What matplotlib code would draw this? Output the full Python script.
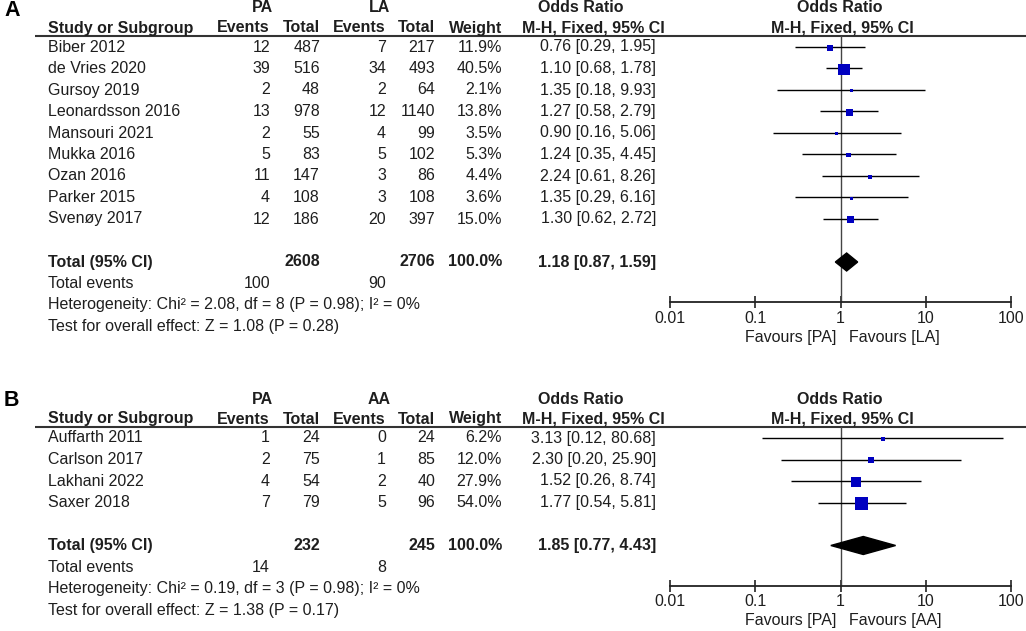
import numpy as np
import matplotlib.pyplot as plt

plt.rcParams['font.family'] = ['Liberation Sans', 'DejaVu Sans']

# ---- panel A: PA vs LA ----
studies_a = ['Biber 2012', 'de Vries 2020', 'Gursoy 2019', 'Leonardsson 2016',
             'Mansouri 2021', 'Mukka 2016', 'Ozan 2016', 'Parker 2015', 'Svenøy 2017']
pa_events_a = [12, 39, 2, 13, 2, 5, 11, 4, 12]
pa_total_a = [487, 516, 48, 978, 55, 83, 147, 108, 186]
ctl_events_a = [7, 34, 2, 12, 4, 5, 3, 3, 20]
ctl_total_a = [217, 493, 64, 1140, 99, 102, 86, 108, 397]
weight_a = [11.9, 40.5, 2.1, 13.8, 3.5, 5.3, 4.4, 3.6, 15.0]
or_a = [0.76, 1.10, 1.35, 1.27, 0.90, 1.24, 2.24, 1.35, 1.30]
lo_a = [0.29, 0.68, 0.18, 0.58, 0.16, 0.35, 0.61, 0.29, 0.62]
hi_a = [1.95, 1.78, 9.93, 2.79, 5.06, 4.45, 8.26, 6.16, 2.72]
total_n_a = [2608, 2706]
total_events_a = [100, 90]
total_or_a = [1.18, 0.87, 1.59]
het_a = 'Heterogeneity: Chi² = 2.08, df = 8 (P = 0.98); I² = 0%'
z_a = 'Test for overall effect: Z = 1.08 (P = 0.28)'

# ---- panel B: PA vs AA ----
studies_b = ['Auffarth 2011', 'Carlson 2017', 'Lakhani 2022', 'Saxer 2018']
pa_events_b = [1, 2, 4, 7]
pa_total_b = [24, 75, 54, 79]
ctl_events_b = [0, 1, 2, 5]
ctl_total_b = [24, 85, 40, 96]
weight_b = [6.2, 12.0, 27.9, 54.0]
or_b = [3.13, 2.30, 1.52, 1.77]
lo_b = [0.12, 0.20, 0.26, 0.54]
hi_b = [80.68, 25.90, 8.74, 5.81]
total_n_b = [232, 245]
total_events_b = [14, 8]
total_or_b = [1.85, 0.77, 4.43]
het_b = 'Heterogeneity: Chi² = 0.19, df = 3 (P = 0.98); I² = 0%'
z_b = 'Test for overall effect: Z = 1.38 (P = 0.17)'

W, H = 1026, 631
FS = 11.5
TXT = '#1e1e1e'
BLUE = '#0000c0'
ROW = 21.5

fig = plt.figure(figsize=(W / 100, H / 100), dpi=100)
bg = fig.add_axes([0, 0, 1, 1])
bg.set_xlim(0, W)
bg.set_ylim(H, 0)
bg.axis('off')

def fmt_or(o, l, h):
    return '%.2f [%.2f, %.2f]' % (o, l, h)

def panel(letter, y0, ctl, studies, pe, pt, ce, ct, wt, ors, los, his,
          tot_n, tot_ev, tot_or, het, ztxt):
    t = dict(fontsize=FS, color=TXT, va='center')
    b = dict(t, fontweight='bold')
    bg.text(4, y0 - 37, letter, fontsize=15.5, fontweight='bold', color='black',
            va='center', ha='left')
    # headers
    bg.text(262, y0 - 39, 'PA', ha='center', **b)
    bg.text(379, y0 - 39, ctl, ha='center', **b)
    bg.text(581, y0 - 39, 'Odds Ratio', ha='center', **b)
    bg.text(840, y0 - 39, 'Odds Ratio', ha='center', **b)
    bg.text(48, y0 - 19, 'Study or Subgroup', ha='left', **b)
    bg.text(270, y0 - 19, 'Events', ha='right', **b)
    bg.text(320, y0 - 19, 'Total', ha='right', **b)
    bg.text(386, y0 - 19, 'Events', ha='right', **b)
    bg.text(435, y0 - 19, 'Total', ha='right', **b)
    bg.text(502, y0 - 19, 'Weight', ha='right', **b)
    bg.text(593, y0 - 19, 'M-H, Fixed, 95% CI', ha='center', **b)
    bg.text(842, y0 - 19, 'M-H, Fixed, 95% CI', ha='center', **b)
    line_y = y0 - 11.5
    bg.plot([35, W], [line_y, line_y], color='#333333', lw=1.5,
            solid_capstyle='butt')

    n = len(studies)
    ys = [y0 + i * ROW for i in range(n)]
    for i in range(n):
        y = ys[i]
        bg.text(48, y, studies[i], ha='left', **t)
        bg.text(270, y, str(pe[i]), ha='right', **t)
        bg.text(320, y, str(pt[i]), ha='right', **t)
        bg.text(386, y, str(ce[i]), ha='right', **t)
        bg.text(435, y, str(ct[i]), ha='right', **t)
        bg.text(502, y, '%.1f%%' % wt[i], ha='right', **t)
        bg.text(656, y, fmt_or(ors[i], los[i], his[i]), ha='right', **t)

    yt = y0 + (n + 1) * ROW
    bg.text(48, yt, 'Total (95% CI)', ha='left', **b)
    bg.text(320, yt, str(tot_n[0]), ha='right', **b)
    bg.text(435, yt, str(tot_n[1]), ha='right', **b)
    bg.text(502, yt, '100.0%', ha='right', **b)
    bg.text(656, yt, fmt_or(*tot_or), ha='right', **b)
    bg.text(48, yt + ROW, 'Total events', ha='left', **t)
    bg.text(270, yt + ROW, str(tot_ev[0]), ha='right', **t)
    bg.text(386, yt + ROW, str(tot_ev[1]), ha='right', **t)
    bg.text(48, yt + 2 * ROW, het, ha='left', **t)
    bg.text(48, yt + 3 * ROW, ztxt, ha='left', **t)

    # forest plot
    axis_y = yt + 2 * ROW - 2.5
    x0, x1 = 670, 1011
    ax = fig.add_axes([x0 / W, 1 - axis_y / H, (x1 - x0) / W,
                       (axis_y - line_y) / H])
    ax.set_facecolor('none')
    ax.set_xscale('log')
    ax.set_xlim(0.01, 100)
    ax.set_ylim(axis_y, line_y)
    for s in ['top', 'left', 'right']:
        ax.spines[s].set_visible(False)
    ax.spines['bottom'].set_linewidth(1.3)
    ax.spines['bottom'].set_color('#222222')
    ax.set_yticks([])
    ax.set_xticks([0.01, 0.1, 1, 10, 100])
    ax.set_xticklabels(['0.01', '0.1', '1', '10', '100'])
    ax.minorticks_off()
    ax.tick_params(axis='x', direction='inout', length=8, width=1.2,
                   labelsize=FS, labelcolor=TXT, color='#222222', pad=2)
    ax.axvline(1, color='#444444', lw=1)
    ax.hlines(ys, los, his, color='black', lw=1)
    ax.scatter(ors, [y + 0.8 for y in ys], marker='s',
               s=[1.68 * w for w in wt], color=BLUE, linewidths=0, zorder=3)
    o, l, h = tot_or
    ax.fill([l, o, h, o], [yt, yt - 9, yt, yt + 9], color='black', zorder=3)

    bg.text(836, axis_y + 35, 'Favours [PA]', ha='right', **t)
    bg.text(849, axis_y + 35, 'Favours [%s]' % ctl, ha='left', **t)

panel('A', 47, 'LA', studies_a, pa_events_a, pa_total_a, ctl_events_a,
      ctl_total_a, weight_a, or_a, lo_a, hi_a, total_n_a, total_events_a,
      total_or_a, het_a, z_a)
panel('B', 438, 'AA', studies_b, pa_events_b, pa_total_b, ctl_events_b,
      ctl_total_b, weight_b, or_b, lo_b, hi_b, total_n_b, total_events_b,
      total_or_b, het_b, z_b)

fig.savefig('out.png', dpi=100)
